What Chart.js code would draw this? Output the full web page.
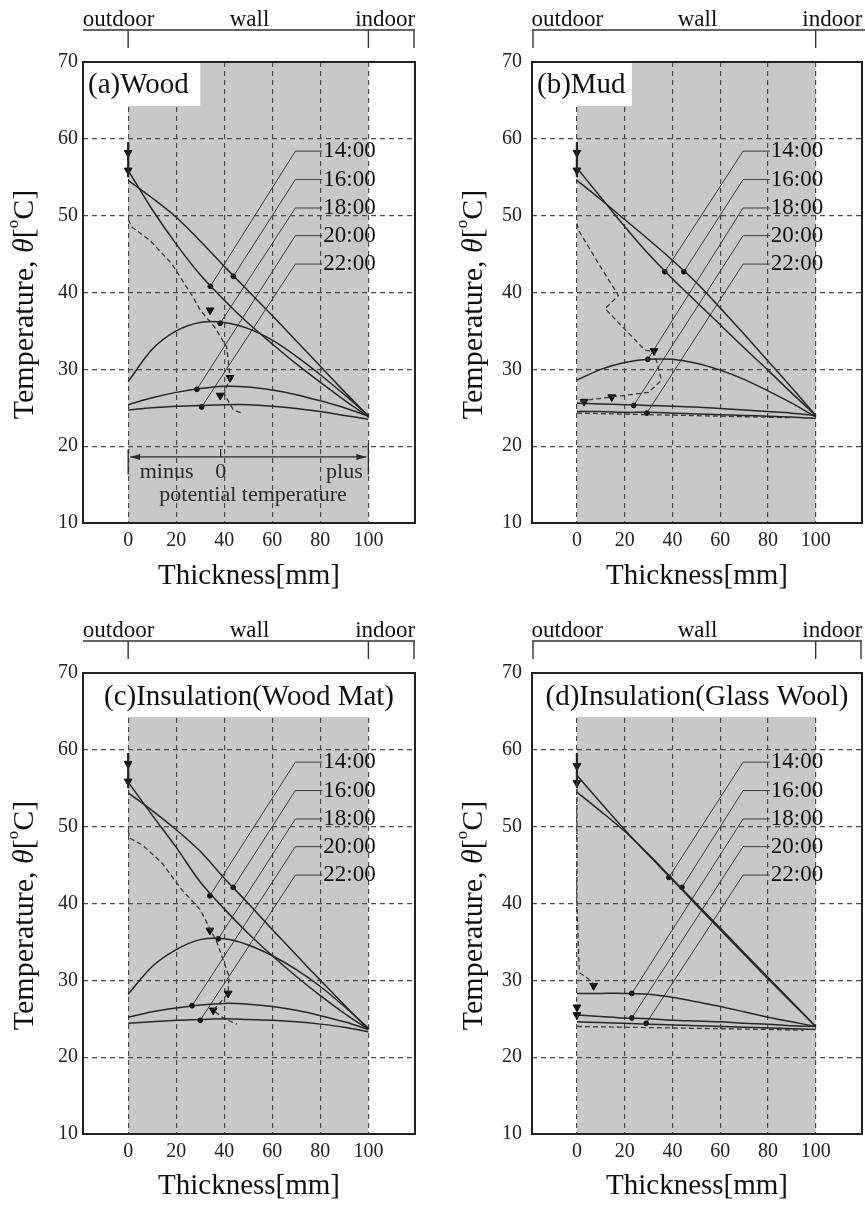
<!DOCTYPE html>
<html>
<head>
<meta charset="utf-8">
<script src="https://cdn.jsdelivr.net/npm/chart.js@4.4.1/dist/chart.umd.min.js"></script>
<style>
  body { margin: 0; background: #fff; }
  canvas { position: absolute; }
</style>
</head>
<body>
<canvas id="woodChart" width="432" height="600" style="left:0;top:0"></canvas>
<canvas id="mudChart" width="433" height="600" style="left:432px;top:0"></canvas>
<canvas id="matChart" width="432" height="607" style="left:0;top:600px"></canvas>
<canvas id="glassChart" width="433" height="607" style="left:432px;top:600px"></canvas>
<script>
// ---- data ----
const thickness = [0, 10, 20, 30, 40, 50, 60, 70, 80, 90, 100];
const hours = ['14:00', '16:00', '18:00', '20:00', '22:00'];
const xTickValues = [0, 20, 40, 60, 80, 100];
const yTickValues = [10, 20, 30, 40, 50, 60, 70];
const sideLabels = ['outdoor', 'wall', 'indoor'];
const potentialLabels = ['minus', '0', 'plus', 'potential temperature'];

// surface reading at x=0 (short solid bar)
const surfaceBarX = [0, 0];
const surfaceBarY = [59.6, 55.0];

// (a) Wood
const wood1400 = [55.9, 50.8, 46.3, 42.3, 39.0, 36.0, 33.3, 30.7, 28.3, 26.0, 23.8];
const wood1600 = [54.6, 52.3, 49.8, 46.7, 43.4, 40.2, 37.0, 33.7, 30.4, 27.1, 23.9];
const wood1800 = [28.4, 32.6, 35.0, 36.1, 36.1, 35.3, 33.8, 31.7, 29.3, 26.7, 24.0];
const wood2000 = [25.4, 26.3, 27.0, 27.5, 27.8, 27.7, 27.3, 26.7, 25.9, 25.0, 23.9];
const wood2200 = [24.7, 25.0, 25.2, 25.3, 25.4, 25.4, 25.2, 24.9, 24.5, 24.0, 23.5];
const woodDashX = [0, 1.6, 9, 18, 27, 30, 36, 41, 42.4, 40, 43.8, 47.3];
const woodDashY = [49.5, 48.5, 46.8, 43.8, 39.4, 37.7, 35.5, 32.9, 29.0, 26.8, 24.7, 24.3];
const woodMarkX = [0, 0, 34.1, 42.4, 38.3];
const woodMarkY = [58.2, 55.9, 37.7, 28.9, 26.6];
const woodDotX = [34.2, 43.8, 38.3, 28.6, 30.6];
const woodDotY = [40.8, 42.1, 36.0, 27.4, 25.1];

// (b) Mud
const mud1400 = [56.2, 52.4, 48.6, 45.0, 41.8, 38.8, 35.8, 32.8, 29.9, 26.9, 24.0];
const mud1600 = [54.6, 52.1, 49.5, 46.9, 44.2, 41.3, 38.0, 34.6, 31.1, 27.6, 24.0];
const mud1800 = [28.6, 30.0, 30.9, 31.3, 31.3, 30.8, 29.9, 28.7, 27.2, 25.6, 23.8];
const mud2000 = [25.6, 25.5, 25.4, 25.3, 25.2, 25.1, 24.9, 24.7, 24.5, 24.3, 24.0];
const mud2200 = [24.5, 24.5, 24.4, 24.4, 24.3, 24.2, 24.1, 24.0, 23.9, 23.8, 23.6];
const mudDashX = [0, 0.7, 9, 17.4, 11.8, 28.5, 32.3, 35.4, 30, 14.6, 4, 0, 5, 0, 30, 60, 90];
const mudDashY = [49.0, 48.1, 43.8, 39.6, 37.9, 32.5, 32.3, 28.6, 27.0, 26.4, 26.0, 25.7, null, 24.3, 24.1, 23.9, 23.7];
const mudMarkX = [0, 0, 32.3, 14.6, 3];
const mudMarkY = [58.2, 55.9, 32.4, 26.4, 25.8];
const mudDotX = [36.8, 44.8, 29.7, 23.8, 29.3];
const mudDotY = [42.7, 42.7, 31.3, 25.3, 24.3];

// (c) Insulation (Wood Mat)
const mat1400 = [55.8, 51.5, 47.3, 42.8, 39.3, 36.1, 33.2, 30.5, 28.0, 25.7, 23.6];
const mat1600 = [54.4, 52.1, 49.6, 46.8, 43.3, 40.0, 36.6, 33.3, 30.0, 26.8, 23.6];
const mat1800 = [28.2, 31.8, 34.0, 35.3, 35.4, 34.6, 33.2, 31.4, 29.2, 26.6, 23.8];
const mat2000 = [25.2, 25.9, 26.4, 26.8, 27.0, 26.9, 26.6, 26.1, 25.4, 24.6, 23.6];
const mat2200 = [24.4, 24.6, 24.8, 24.9, 25.0, 24.9, 24.8, 24.6, 24.3, 23.9, 23.3];
const matDashX = [0, 0.7, 6, 14, 22.3, 30, 37, 42, 41.6, 38, 35.4, 40, 45.3];
const matDashY = [49.5, 48.5, 47.6, 45.3, 41.8, 39.2, 34.9, 30.5, 28.3, 27.0, 26.1, 25.0, 24.3];
const matMarkX = [0, 0, 34, 41.6, 35.4];
const matMarkY = [58.2, 55.9, 36.5, 28.3, 26.1];
const matDotX = [34, 43.7, 37.5, 26.6, 30];
const matDotY = [41.0, 42.1, 35.4, 26.7, 24.8];

// (d) Insulation (Glass Wool)
const glass1400 = [56.7, 53.1, 49.6, 46.3, 43.1, 39.8, 36.6, 33.4, 30.2, 27.1, 24.0];
const glass1600 = [54.5, 52.0, 49.4, 46.4, 43.2, 40.0, 36.8, 33.6, 30.4, 27.2, 24.0];
const glass1800 = [28.3, 28.3, 28.3, 28.2, 27.8, 27.2, 26.6, 25.9, 25.2, 24.6, 24.0];
const glass2000 = [25.5, 25.3, 25.1, 25.0, 24.8, 24.7, 24.6, 24.4, 24.3, 24.1, 24.0];
const glass2200 = [24.6, 24.5, 24.4, 24.3, 24.2, 24.1, 24.0, 23.9, 23.8, 23.7, 23.6];
const glassDashX = [0, 0, 1, 4, 7.5, 8, 0, 40, 80, 95];
const glassDashY = [57.0, 40.0, 31.0, 30.4, 29.4, null, 24.0, 23.8, 23.6, 23.5];
const glassMarkX = [0, 0, 7, 0, 0];
const glassMarkY = [57.9, 55.7, 29.3, 26.5, 25.5];
const glassDotX = [38.5, 44, 23, 23, 29];
const glassDotY = [43.4, 42.1, 28.3, 25.1, 24.4];

// ---- drawing ----
const serif = '"Liberation Serif", "DejaVu Serif", serif';
Chart.defaults.font.family = serif;
Chart.defaults.color = '#222';

const leaderLabelY = [58.4, 54.7, 51.0, 47.4, 43.7];
const leaderElbowX = 69.6;
const leaderEndX = 80.8;
const boxBottomY = 64.3;

function pts(xs, ys) {
  return xs.map((x, i) => ({ x: x, y: ys[i] }));
}

function panelDatasets(curves, dashX, dashY, markX, markY, dotX, dotY) {
  const sets = curves.map(c => ({
    data: pts(thickness, c),
    showLine: true,
    borderColor: '#262626',
    borderWidth: 1.5,
    pointRadius: 0,
    tension: 0.3
  }));
  sets.push({
    data: pts(dashX, dashY),
    showLine: true, spanGaps: false,
    borderColor: '#3a3a3a', borderWidth: 1.3, borderDash: [5, 3],
    pointRadius: 0, tension: 0
  });
  sets.push({
    data: pts(surfaceBarX, surfaceBarY),
    showLine: true, borderColor: '#222', borderWidth: 2.2, pointRadius: 0
  });
  sets.push({
    data: pts(markX, markY),
    showLine: false, pointStyle: 'triangle', rotation: 180,
    pointRadius: 4.5, backgroundColor: '#111', borderColor: '#111', borderWidth: 1
  });
  sets.push({
    data: pts(dotX, dotY),
    showLine: false, pointStyle: 'circle',
    pointRadius: 2.4, backgroundColor: '#111', borderColor: '#111', borderWidth: 1
  });
  return sets;
}

function drawYTitle(ctx, cx, cy) {
  const parts = [
    { t: 'Temperature, ', f: '30px ' + serif, dy: 0 },
    { t: 'θ', f: 'italic 30px ' + serif, dy: 0 },
    { t: '[', f: '30px ' + serif, dy: 0 },
    { t: 'o', f: '17px ' + serif, dy: -11 },
    { t: 'C]', f: '30px ' + serif, dy: 0 }
  ];
  let w = 0;
  parts.forEach(p => { ctx.font = p.f; p.w = ctx.measureText(p.t).width; w += p.w; });
  ctx.save();
  ctx.translate(cx, cy);
  ctx.rotate(-Math.PI / 2);
  ctx.fillStyle = '#111';
  ctx.textBaseline = 'middle';
  ctx.textAlign = 'left';
  let px = -w / 2;
  parts.forEach(p => {
    ctx.font = p.f;
    ctx.fillText(p.t, px, p.dy);
    px += p.w;
  });
  ctx.restore();
}

function makeWallPlugin(cfg) {
  return {
    id: 'wall',
    beforeDraw(chart) {
      const { ctx, chartArea: a, scales: { x } } = chart;
      const x0 = x.getPixelForValue(0), x1 = x.getPixelForValue(100);
      ctx.save();
      ctx.fillStyle = '#c8c8c8';
      ctx.fillRect(x0, a.top, x1 - x0, a.bottom - a.top);
      ctx.restore();
    },
    beforeDatasetsDraw(chart) {
      const { ctx, chartArea: a, scales: { x, y } } = chart;
      ctx.save();
      // name box
      const right = cfg.boxRight == null ? a.right : x.getPixelForValue(cfg.boxRight);
      const bottom = y.getPixelForValue(boxBottomY);
      ctx.fillStyle = '#fff';
      ctx.fillRect(a.left, a.top, right - a.left, bottom - a.top);
      ctx.fillStyle = '#111';
      ctx.font = '29px ' + serif;
      ctx.textBaseline = 'middle';
      if (cfg.centerName) {
        ctx.textAlign = 'center';
        ctx.fillText(cfg.name, (a.left + a.right) / 2, a.top + 24);
      } else {
        ctx.textAlign = 'left';
        ctx.fillText(cfg.name, a.left + 5, a.top + 23);
      }
      // leader lines to the hour labels
      ctx.strokeStyle = '#3c3c3c';
      ctx.lineWidth = 1;
      const ex = x.getPixelForValue(leaderElbowX), tx = x.getPixelForValue(leaderEndX);
      cfg.dotX.forEach((dx, i) => {
        const ly = y.getPixelForValue(leaderLabelY[i]);
        ctx.beginPath();
        ctx.moveTo(x.getPixelForValue(dx), y.getPixelForValue(cfg.dotY[i]));
        ctx.lineTo(ex, ly);
        ctx.lineTo(tx, ly);
        ctx.stroke();
      });
      ctx.font = '23px ' + serif;
      ctx.textAlign = 'left';
      ctx.fillStyle = '#111';
      hours.forEach((h, i) => ctx.fillText(h, tx + 1, y.getPixelForValue(leaderLabelY[i])));
      ctx.restore();
    },
    afterDatasetsDraw(chart) {
      if (!cfg.potential) return;
      const { ctx, scales: { x, y } } = chart;
      const ay = y.getPixelForValue(18.6);
      const p0 = x.getPixelForValue(0), p1 = x.getPixelForValue(100);
      ctx.save();
      ctx.strokeStyle = '#2b2b2b';
      ctx.fillStyle = '#2b2b2b';
      ctx.lineWidth = 1.3;
      ctx.beginPath();
      ctx.moveTo(p0 + 2, ay); ctx.lineTo(p1 - 2, ay);
      ctx.moveTo(p0, y.getPixelForValue(19.6)); ctx.lineTo(p0, y.getPixelForValue(16.3));
      ctx.moveTo(p1, y.getPixelForValue(20.3)); ctx.lineTo(p1, y.getPixelForValue(16.3));
      const z = x.getPixelForValue(38.5);
      ctx.moveTo(z, ay); ctx.lineTo(z, ay - 8);
      ctx.stroke();
      ctx.beginPath();
      ctx.moveTo(p0 + 2, ay); ctx.lineTo(p0 + 12, ay - 3); ctx.lineTo(p0 + 12, ay + 3); ctx.closePath();
      ctx.moveTo(p1 - 2, ay); ctx.lineTo(p1 - 12, ay - 3); ctx.lineTo(p1 - 12, ay + 3); ctx.closePath();
      ctx.fill();
      ctx.fillStyle = '#2a2a2a';
      ctx.font = '22px ' + serif;
      ctx.textAlign = 'center';
      ctx.textBaseline = 'middle';
      const ty = y.getPixelForValue(16.6);
      ctx.fillText(potentialLabels[0], x.getPixelForValue(16), ty);
      ctx.fillText(potentialLabels[1], z, ty);
      ctx.fillText(potentialLabels[2], x.getPixelForValue(90), ty);
      ctx.fillText(potentialLabels[3], x.getPixelForValue(52), y.getPixelForValue(13.6));
      ctx.restore();
    },
    afterDraw(chart) {
      const { ctx, chartArea: a, scales: { x } } = chart;
      ctx.save();
      // frame
      ctx.strokeStyle = '#222';
      ctx.lineWidth = 2;
      ctx.strokeRect(a.left, a.top, a.right - a.left, a.bottom - a.top);
      // outdoor / wall / indoor bracket
      const ly = a.top - 32;
      ctx.lineWidth = 1.4;
      ctx.strokeStyle = '#333';
      ctx.beginPath();
      ctx.moveTo(a.left, ly);
      ctx.lineTo(cfg.bracketToEdge ? chart.width : a.right, ly);
      cfg.bracketTicks.forEach(t => {
        const px = Math.min(Math.max(x.getPixelForValue(t), a.left + 1), a.right - 1);
        ctx.moveTo(px, ly);
        ctx.lineTo(px, a.top - 14);
      });
      ctx.stroke();
      ctx.fillStyle = '#111';
      ctx.font = '23px ' + serif;
      ctx.textAlign = 'center';
      ctx.textBaseline = 'alphabetic';
      [-4, 50.5, 107].forEach((v, i) => ctx.fillText(sideLabels[i], x.getPixelForValue(v), a.top - 36));
      ctx.restore();
      drawYTitle(ctx, cfg.yTitleX, (a.top + a.bottom) / 2 + 12);
    }
  };
}

function makeChart(id, datasets, cfg) {
  return new Chart(document.getElementById(id), {
    type: 'scatter',
    data: { datasets: datasets },
    options: {
      responsive: false,
      animation: false,
      events: [],
      layout: { autoPadding: false, padding: { left: 0, right: cfg.padRight, top: cfg.padTop, bottom: 0 } },
      plugins: { legend: { display: false }, tooltip: { enabled: false } },
      scales: {
        x: {
          type: 'linear', min: -18.8, max: 119.4,
          afterBuildTicks: s => { s.ticks = xTickValues.map(v => ({ value: v })); },
          afterFit: s => { s.height = cfg.xAxisHeight; },
          grid: { color: '#4a4a4a', lineWidth: 1.2, drawTicks: false },
          border: { display: false, dash: [5, 4] },
          ticks: { padding: 6, font: { size: 20 }, color: '#222' },
          title: { display: true, text: 'Thickness[mm]', font: { size: 29 }, color: '#111', padding: { top: 0, bottom: cfg.titlePad } }
        },
        y: {
          type: 'linear', min: 10, max: 70,
          afterBuildTicks: s => { s.ticks = yTickValues.map(v => ({ value: v })); },
          afterFit: s => { s.width = cfg.yAxisWidth; },
          grid: {
            color: c => (c.tick && (c.tick.value === 10 || c.tick.value === 70)) ? 'rgba(0,0,0,0)' : '#4a4a4a',
            lineWidth: 1.2, drawTicks: false
          },
          border: { display: false, dash: [5, 4] },
          ticks: { padding: cfg.yTickPad, font: { size: 20 }, color: '#222' }
        }
      }
    },
    plugins: [makeWallPlugin(cfg)]
  });
}

makeChart('woodChart',
  panelDatasets([wood1400, wood1600, wood1800, wood2000, wood2200], woodDashX, woodDashY, woodMarkX, woodMarkY, woodDotX, woodDotY),
  { name: '(a)Wood', centerName: false, boxRight: 30, potential: true,
    dotX: woodDotX, dotY: woodDotY, bracketTicks: [0, 100, 119.4], bracketToEdge: false,
    yAxisWidth: 83, padRight: 17, padTop: 62, xAxisHeight: 77, titlePad: 6, yTickPad: 5, yTitleX: 25 });

makeChart('mudChart',
  panelDatasets([mud1400, mud1600, mud1800, mud2000, mud2200], mudDashX, mudDashY, mudMarkX, mudMarkY, mudDotX, mudDotY),
  { name: '(b)Mud', centerName: false, boxRight: 23, potential: false,
    dotX: mudDotX, dotY: mudDotY, bracketTicks: [-18.8, 100], bracketToEdge: true,
    yAxisWidth: 100, padRight: 3, padTop: 62, xAxisHeight: 77, titlePad: 6, yTickPad: 10, yTitleX: 42 });

makeChart('matChart',
  panelDatasets([mat1400, mat1600, mat1800, mat2000, mat2200], matDashX, matDashY, matMarkX, matMarkY, matDotX, matDotY),
  { name: '(c)Insulation(Wood Mat)', centerName: true, boxRight: null, potential: false,
    dotX: matDotX, dotY: matDotY, bracketTicks: [0, 100, 119.4], bracketToEdge: false,
    yAxisWidth: 83, padRight: 17, padTop: 73, xAxisHeight: 73, titlePad: 3, yTickPad: 5, yTitleX: 25 });

makeChart('glassChart',
  panelDatasets([glass1400, glass1600, glass1800, glass2000, glass2200], glassDashX, glassDashY, glassMarkX, glassMarkY, glassDotX, glassDotY),
  { name: '(d)Insulation(Glass Wool)', centerName: true, boxRight: null, potential: false,
    dotX: glassDotX, dotY: glassDotY, bracketTicks: [-18.8, 100, 119.4], bracketToEdge: false,
    yAxisWidth: 100, padRight: 3, padTop: 73, xAxisHeight: 73, titlePad: 3, yTickPad: 10, yTitleX: 42 });
</script>
</body>
</html>
